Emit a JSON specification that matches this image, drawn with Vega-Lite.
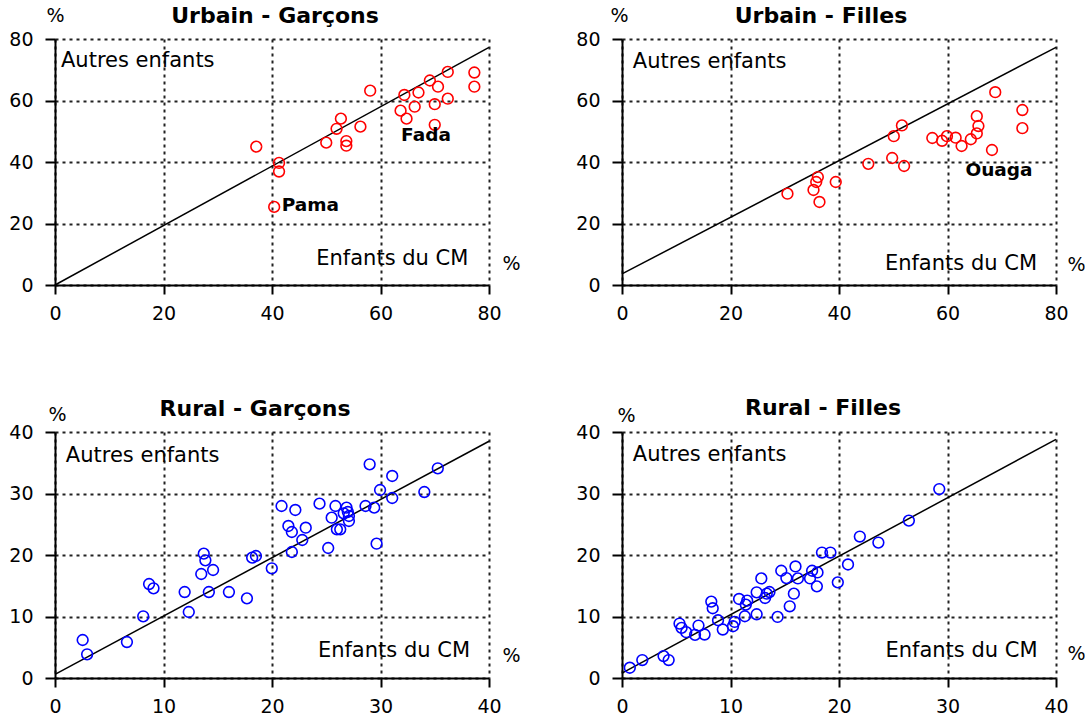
{
  "$schema": "https://vega.github.io/schema/vega-lite/v6.json",
  "padding": {"left": 8, "top": 4, "right": 0, "bottom": 0},
  "bounds": "flush",
  "columns": 2,
  "spacing": {"row": 147, "column": 133},
  "background": "white",
  "config": {
    "view": {"stroke": null},
    "font": "DejaVu Sans",
    "axis": {
      "domainColor": "black", "domainWidth": 2,
      "tickColor": "black", "tickWidth": 2,
      "labelFont": "DejaVu Sans", "labelFontSize": 19, "labelColor": "black",
      "labelOverlap": false,
      "gridColor": "#222222", "gridDash": [3, 4], "gridWidth": 2, "gridOpacity": 1,
      "titleFont": "DejaVu Sans", "titleFontSize": 19, "titleFontWeight": "normal", "titleColor": "black",
      "titleAngle": 0, "titleAlign": "center", "titleBaseline": "middle"
    },
    "axisX": {"tickSize": 9, "labelPadding": 10, "labelFlush": false},
    "axisY": {"tickSize": 10, "labelPadding": 12},
    "title": {"font": "DejaVu Sans", "fontSize": 22, "fontWeight": "bold", "color": "black", "frame": "group", "anchor": "middle", "baseline": "alphabetic"}
  },
  "datasets": {
    "ug": [
      {"x": 37.1, "y": 45.0}, {"x": 41.3, "y": 39.7}, {"x": 41.3, "y": 36.9}, {"x": 40.4, "y": 25.4},
      {"x": 50.0, "y": 46.3}, {"x": 51.9, "y": 50.8}, {"x": 52.7, "y": 54.1}, {"x": 53.7, "y": 46.8},
      {"x": 53.7, "y": 45.3}, {"x": 56.3, "y": 51.5}, {"x": 58.1, "y": 63.2}, {"x": 63.7, "y": 56.7},
      {"x": 64.4, "y": 61.8}, {"x": 64.8, "y": 54.1}, {"x": 66.3, "y": 58.0}, {"x": 67.0, "y": 62.6},
      {"x": 69.1, "y": 66.5}, {"x": 70.0, "y": 58.8}, {"x": 70.0, "y": 52.1}, {"x": 70.6, "y": 64.5},
      {"x": 72.4, "y": 69.3}, {"x": 72.4, "y": 60.6}, {"x": 77.3, "y": 69.1}, {"x": 77.3, "y": 64.5}
    ],
    "uf": [
      {"x": 30.5, "y": 29.7}, {"x": 35.3, "y": 30.9}, {"x": 35.8, "y": 33.5}, {"x": 36.1, "y": 35.1},
      {"x": 36.4, "y": 27.0}, {"x": 39.4, "y": 33.5}, {"x": 45.4, "y": 39.4}, {"x": 49.8, "y": 41.3},
      {"x": 50.1, "y": 48.4}, {"x": 51.6, "y": 51.9}, {"x": 52.0, "y": 38.7}, {"x": 57.2, "y": 47.8},
      {"x": 59.0, "y": 46.9}, {"x": 59.9, "y": 48.4}, {"x": 61.5, "y": 47.9}, {"x": 62.6, "y": 45.2},
      {"x": 64.3, "y": 47.4}, {"x": 65.4, "y": 49.3}, {"x": 65.7, "y": 51.7}, {"x": 65.4, "y": 54.9},
      {"x": 68.2, "y": 43.9}, {"x": 68.8, "y": 62.7}, {"x": 73.8, "y": 56.9}, {"x": 73.8, "y": 51.0}
    ],
    "rg": [
      {"x": 2.55, "y": 6.18}, {"x": 2.96, "y": 3.85}, {"x": 6.63, "y": 5.85}, {"x": 8.13, "y": 10.03},
      {"x": 8.67, "y": 15.28}, {"x": 9.08, "y": 14.58}, {"x": 11.95, "y": 13.98}, {"x": 12.33, "y": 10.73},
      {"x": 13.48, "y": 16.91}, {"x": 13.71, "y": 20.22}, {"x": 13.86, "y": 19.13}, {"x": 14.18, "y": 13.98},
      {"x": 14.57, "y": 17.56}, {"x": 16.03, "y": 13.98}, {"x": 17.69, "y": 12.95}, {"x": 18.17, "y": 19.57},
      {"x": 18.52, "y": 19.84}, {"x": 19.98, "y": 17.83}, {"x": 20.88, "y": 27.97}, {"x": 21.51, "y": 24.72},
      {"x": 21.83, "y": 23.74}, {"x": 21.83, "y": 20.49}, {"x": 22.15, "y": 27.32}, {"x": 22.79, "y": 22.44},
      {"x": 23.11, "y": 24.44}, {"x": 24.38, "y": 28.35}, {"x": 25.18, "y": 21.14}, {"x": 25.50, "y": 26.07},
      {"x": 25.85, "y": 27.97}, {"x": 25.98, "y": 24.17}, {"x": 26.29, "y": 24.17}, {"x": 26.61, "y": 26.78},
      {"x": 26.87, "y": 27.70}, {"x": 26.99, "y": 26.99}, {"x": 27.09, "y": 25.53}, {"x": 27.09, "y": 26.34},
      {"x": 28.62, "y": 27.97}, {"x": 29.0, "y": 34.74}, {"x": 29.42, "y": 27.70}, {"x": 29.64, "y": 21.84},
      {"x": 29.96, "y": 30.57}, {"x": 31.08, "y": 32.85}, {"x": 31.08, "y": 29.27}, {"x": 34.04, "y": 30.24},
      {"x": 35.28, "y": 34.09}
    ],
    "rf": [
      {"x": 0.72, "y": 1.67}, {"x": 1.87, "y": 2.92}, {"x": 3.83, "y": 3.56}, {"x": 4.30, "y": 2.92},
      {"x": 5.30, "y": 8.85}, {"x": 5.49, "y": 8.15}, {"x": 5.92, "y": 7.45}, {"x": 6.73, "y": 7.02},
      {"x": 7.05, "y": 8.53}, {"x": 7.61, "y": 7.07}, {"x": 8.23, "y": 12.42}, {"x": 8.36, "y": 11.34},
      {"x": 8.85, "y": 9.39}, {"x": 9.29, "y": 7.88}, {"x": 10.23, "y": 8.42}, {"x": 10.38, "y": 9.12},
      {"x": 10.79, "y": 12.85}, {"x": 11.32, "y": 10.04}, {"x": 11.41, "y": 11.93}, {"x": 11.54, "y": 12.58},
      {"x": 12.41, "y": 10.36}, {"x": 12.41, "y": 13.93}, {"x": 12.84, "y": 16.19}, {"x": 13.19, "y": 13.01},
      {"x": 13.34, "y": 13.71}, {"x": 13.59, "y": 13.98}, {"x": 14.34, "y": 9.93}, {"x": 14.68, "y": 17.44},
      {"x": 15.15, "y": 16.25}, {"x": 15.46, "y": 11.66}, {"x": 15.84, "y": 13.71}, {"x": 15.99, "y": 18.14},
      {"x": 16.21, "y": 16.19}, {"x": 17.33, "y": 16.19}, {"x": 17.52, "y": 17.44}, {"x": 18.02, "y": 17.17},
      {"x": 17.96, "y": 14.90}, {"x": 18.43, "y": 20.40}, {"x": 19.21, "y": 20.40}, {"x": 19.89, "y": 15.55},
      {"x": 20.83, "y": 18.46}, {"x": 21.92, "y": 23.00}, {"x": 23.63, "y": 22.02}, {"x": 26.44, "y": 25.59},
      {"x": 29.24, "y": 30.72}
    ],
    "fit_ug": [{"x": 0, "y": 0}, {"x": 80, "y": 77.3}],
    "fit_uf": [{"x": 0, "y": 3.6}, {"x": 80, "y": 77.3}],
    "fit_rg": [{"x": 0, "y": 0.6}, {"x": 40, "y": 38.5}],
    "fit_rf": [{"x": 0, "y": 0.8}, {"x": 40, "y": 38.8}],
    "top_ug": [{"x": 1.1, "y": 73.0, "label": "Autres enfants"}],
    "top_uf": [{"x": 2.0, "y": 72.4, "label": "Autres enfants"}],
    "top_rg": [{"x": 1.0, "y": 36.1, "label": "Autres enfants"}],
    "top_rf": [{"x": 1.0, "y": 36.2, "label": "Autres enfants"}],
    "bot_ug": [{"x": 76.2, "y": 8.5, "label": "Enfants du CM"}],
    "bot_uf": [{"x": 76.5, "y": 6.8, "label": "Enfants du CM"}],
    "bot_rg": [{"x": 38.25, "y": 4.4, "label": "Enfants du CM"}],
    "bot_rf": [{"x": 38.3, "y": 4.4, "label": "Enfants du CM"}],
    "names_ug": [{"x": 41.8, "y": 25.9, "label": "Pama"}, {"x": 63.8, "y": 48.8, "label": "Fada"}],
    "names_uf": [{"x": 63.3, "y": 37.4, "label": "Ouaga"}]
  },
  "concat": [
    {
      "width": 434, "height": 246,
      "title": {"text": "Urbain - Garçons", "dx": 3, "offset": -21.5},
      "encoding": {
        "x": {"field": "x", "type": "quantitative", "scale": {"domain": [0, 80], "nice": false}, "axis": {"values": [0, 20, 40, 60, 80], "title": "%", "titleX": 456, "titleY": -22}},
        "y": {"field": "y", "type": "quantitative", "scale": {"domain": [0, 80], "nice": false}, "axis": {"values": [0, 20, 40, 60, 80], "title": "%", "titleX": 0, "titleY": -24}}
      },
      "layer": [
        {"data": {"name": "fit_ug"}, "mark": {"type": "line", "color": "black", "strokeWidth": 1.5}, "encoding": {}},
        {"data": {"name": "ug"}, "mark": {"type": "point", "shape": "circle", "filled": false, "color": "#ff0000", "strokeWidth": 1.6, "size": 115, "opacity": 1}},
        {"data": {"name": "top_ug"}, "mark": {"type": "text", "align": "left", "baseline": "middle", "fontSize": 21, "font": "DejaVu Sans", "color": "black"}, "encoding": {"text": {"field": "label"}}},
        {"data": {"name": "bot_ug"}, "mark": {"type": "text", "align": "right", "baseline": "middle", "fontSize": 21, "font": "DejaVu Sans", "color": "black"}, "encoding": {"text": {"field": "label"}}},
        {"data": {"name": "names_ug"}, "mark": {"type": "text", "align": "left", "baseline": "middle", "fontSize": 18.5, "fontWeight": "bold", "font": "DejaVu Sans", "color": "black"}, "encoding": {"text": {"field": "label"}}}
      ]
    },
    {
      "width": 434, "height": 246,
      "title": {"text": "Urbain - Filles", "dx": -18, "offset": -22},
      "encoding": {
        "x": {"field": "x", "type": "quantitative", "scale": {"domain": [0, 80], "nice": false}, "axis": {"values": [0, 20, 40, 60, 80], "title": "%", "titleX": 454, "titleY": -21}},
        "y": {"field": "y", "type": "quantitative", "scale": {"domain": [0, 80], "nice": false}, "axis": {"values": [0, 20, 40, 60, 80], "title": "%", "titleX": -3, "titleY": -24}}
      },
      "layer": [
        {"data": {"name": "fit_uf"}, "mark": {"type": "line", "color": "black", "strokeWidth": 1.5}, "encoding": {}},
        {"data": {"name": "uf"}, "mark": {"type": "point", "shape": "circle", "filled": false, "color": "#ff0000", "strokeWidth": 1.6, "size": 115, "opacity": 1}},
        {"data": {"name": "top_uf"}, "mark": {"type": "text", "align": "left", "baseline": "middle", "fontSize": 21, "font": "DejaVu Sans", "color": "black"}, "encoding": {"text": {"field": "label"}}},
        {"data": {"name": "bot_uf"}, "mark": {"type": "text", "align": "right", "baseline": "middle", "fontSize": 21, "font": "DejaVu Sans", "color": "black"}, "encoding": {"text": {"field": "label"}}},
        {"data": {"name": "names_uf"}, "mark": {"type": "text", "align": "left", "baseline": "middle", "fontSize": 18.5, "fontWeight": "bold", "font": "DejaVu Sans", "color": "black"}, "encoding": {"text": {"field": "label"}}}
      ]
    },
    {
      "width": 434, "height": 246,
      "title": {"text": "Rural - Garçons", "dx": -17, "offset": -15.5},
      "encoding": {
        "x": {"field": "x", "type": "quantitative", "scale": {"domain": [0, 40], "nice": false}, "axis": {"values": [0, 10, 20, 30, 40], "title": "%", "titleX": 456, "titleY": -23}},
        "y": {"field": "y", "type": "quantitative", "scale": {"domain": [0, 40], "nice": false}, "axis": {"values": [0, 10, 20, 30, 40], "title": "%", "titleX": 2, "titleY": -18}}
      },
      "layer": [
        {"data": {"name": "fit_rg"}, "mark": {"type": "line", "color": "black", "strokeWidth": 1.5}, "encoding": {}},
        {"data": {"name": "rg"}, "mark": {"type": "point", "shape": "circle", "filled": false, "color": "#0000ff", "strokeWidth": 1.6, "size": 115, "opacity": 1}},
        {"data": {"name": "top_rg"}, "mark": {"type": "text", "align": "left", "baseline": "middle", "fontSize": 21, "font": "DejaVu Sans", "color": "black"}, "encoding": {"text": {"field": "label"}}},
        {"data": {"name": "bot_rg"}, "mark": {"type": "text", "align": "right", "baseline": "middle", "fontSize": 21, "font": "DejaVu Sans", "color": "black"}, "encoding": {"text": {"field": "label"}}}
      ]
    },
    {
      "width": 434, "height": 246,
      "title": {"text": "Rural - Filles", "dx": -16, "offset": -13.7},
      "encoding": {
        "x": {"field": "x", "type": "quantitative", "scale": {"domain": [0, 40], "nice": false}, "axis": {"values": [0, 10, 20, 30, 40], "title": "%", "titleX": 454, "titleY": -25}},
        "y": {"field": "y", "type": "quantitative", "scale": {"domain": [0, 40], "nice": false}, "axis": {"values": [0, 10, 20, 30, 40], "title": "%", "titleX": 4, "titleY": -17}}
      },
      "layer": [
        {"data": {"name": "fit_rf"}, "mark": {"type": "line", "color": "black", "strokeWidth": 1.5}, "encoding": {}},
        {"data": {"name": "rf"}, "mark": {"type": "point", "shape": "circle", "filled": false, "color": "#0000ff", "strokeWidth": 1.6, "size": 115, "opacity": 1}},
        {"data": {"name": "top_rf"}, "mark": {"type": "text", "align": "left", "baseline": "middle", "fontSize": 21, "font": "DejaVu Sans", "color": "black"}, "encoding": {"text": {"field": "label"}}},
        {"data": {"name": "bot_rf"}, "mark": {"type": "text", "align": "right", "baseline": "middle", "fontSize": 21, "font": "DejaVu Sans", "color": "black"}, "encoding": {"text": {"field": "label"}}}
      ]
    }
  ]
}
